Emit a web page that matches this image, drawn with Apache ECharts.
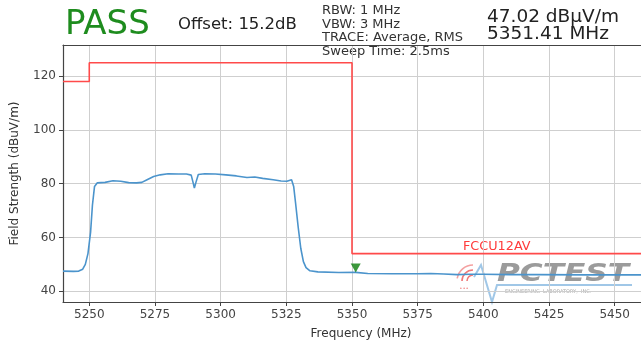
<!DOCTYPE html>
<html><head><meta charset="utf-8">
<script src="https://cdn.jsdelivr.net/npm/echarts@6/dist/echarts.min.js"></script>
<style>html,body{margin:0;padding:0;background:#fff}#c{width:641px;height:345px}</style>
</head><body><div id="c"></div>
<script>
// ---- data ----
const traceFreqs = [5240,5244,5246,5247.5,5248.5,5249.5,5250.5,5251.2,5252,5253,5256,5259,5262,5265,5268,5270,5272,5274.5,5277,5280,5284,5287,5288.8,5289.5,5290,5290.6,5291.5,5294,5298,5302,5306,5310,5313,5316,5320,5323,5325.2,5327,5327.8,5328.5,5329.5,5330.5,5331.5,5332.5,5334,5337,5345,5351.41,5356,5365,5375,5380,5385,5390,5395,5400,5410,5420,5440,5460];
const traceLevels = [47.5,47.4,47.5,48.2,50,54,62,72,79,80.3,80.5,81.1,80.9,80.4,80.3,80.5,81.5,82.7,83.3,83.7,83.6,83.6,83.2,80.5,78.4,80.5,83.4,83.7,83.6,83.3,82.9,82.3,82.5,82.0,81.5,81.0,80.9,81.5,79,73,64,56,51,48.8,47.6,47.2,47.0,47.02,46.6,46.5,46.5,46.6,46.4,46.2,46.3,46.3,46.2,46.2,46.1,46.1];
const limitFreqs = [5240,5250,5250,5350,5350,5460];
const limitLevels = [118,118,125,125,54,54];
const markerFreqs = [5351.41];
const markerLevels = [47.02];
const xTickValues = [5250,5275,5300,5325,5350,5375,5400,5425,5450];
const yTickValues = [40,60,80,100,120];
const limitName = 'FCCU12AV';

const FONT = 'DejaVu Sans';
const zip = (a, b) => a.map((v, i) => [v, b[i]]);
const plain = v => String(v);

const chart = echarts.init(document.getElementById('c'), null, {renderer: 'canvas'});
const frame = {show: true, lineStyle: {color: '#444', width: 1.2}};
const option = {
  animation: false,
  backgroundColor: '#fff',
  textStyle: {fontFamily: FONT},
  grid: {left: 63, top: 45, right: 0, bottom: 40, show: false},
  xAxis: [{
    type: 'value', min: 5240, max: 5460,
    name: 'Frequency (MHz)', nameLocation: 'middle', nameGap: 26,
    nameTextStyle: {fontFamily: FONT, fontSize: 12, color: '#333', padding: [0, 0, 0, 18]},
    axisLine: frame,
    axisTick: {show: true, length: 4, inside: false, customValues: xTickValues, lineStyle: {color: '#444'}},
    axisLabel: {customValues: xTickValues, formatter: plain, fontFamily: FONT, fontSize: 12, color: '#444', margin: 7},
    splitLine: {show: true, lineStyle: {color: '#cfcfcf', width: 1}}
  }, {
    type: 'value', position: 'top', min: 5240, max: 5460,
    axisLine: frame, axisTick: {show: false}, axisLabel: {show: false}, splitLine: {show: false}
  }],
  yAxis: {
    type: 'value', min: 36, max: 131.6,
    name: 'Field Strength (dBuV/m)', nameLocation: 'middle', nameGap: 42,
    nameTextStyle: {fontFamily: FONT, fontSize: 12, color: '#333'},
    axisLine: frame,
    axisTick: {show: true, length: 4, inside: false, customValues: yTickValues, lineStyle: {color: '#444'}},
    axisLabel: {customValues: yTickValues, formatter: plain, fontFamily: FONT, fontSize: 12, color: '#444', margin: 7},
    splitLine: {show: true, lineStyle: {color: '#cfcfcf', width: 1}}
  },
  series: [
    {type: 'line', data: zip(limitFreqs, limitLevels), showSymbol: false, symbol: 'none',
     lineStyle: {color: '#ff4a4a', width: 1.6}, z: 3},
    {type: 'line', data: zip(traceFreqs, traceLevels), showSymbol: false, symbol: 'none',
     lineStyle: {color: '#4b94cc', width: 1.6}, z: 4},
    {type: 'scatter', data: zip(markerFreqs, markerLevels), symbol: 'triangle', symbolRotate: 180,
     symbolSize: [10, 9], symbolOffset: [0, -4.5], itemStyle: {color: '#0a7d0a'}, z: 6}
  ],
  graphic: [
    {type: 'text', left: 65, top: 8, style: {text: 'PASS', fontFamily: FONT, fontSize: 34, fill: '#1e8c1e'}},
    {type: 'text', left: 178, top: 16, style: {text: 'Offset: 15.2dB', fontFamily: FONT, fontSize: 16.5, fill: '#222'}},
    {type: 'text', left: 322, top: 4, style: {text: 'RBW: 1 MHz\nVBW: 3 MHz\nTRACE: Average, RMS\nSweep Time: 2.5ms', fontFamily: FONT, fontSize: 13, lineHeight: 13.6, fill: '#333'}},
    {type: 'text', left: 487, top: 8, style: {text: '47.02 dBµV/m\n5351.41 MHz', fontFamily: FONT, fontSize: 18.5, lineHeight: 16.5, fill: '#222'}},
    {type: 'text', left: 463, top: 240, style: {text: limitName, fontFamily: FONT, fontSize: 12.8, fill: '#ff3b3b'}},
    // PCTEST watermark logo
    {type: 'group', z: 10, silent: true, children: [
      {type: 'polyline', shape: {points: [[474,277],[481,265],[492,302],[497,285],[632,285]]}, style: {stroke: '#8fbde3', lineWidth: 2, fill: null, opacity: 0.85}},
      {type: 'arc', shape: {cx: 473, cy: 281, r: 6, startAngle: Math.PI, endAngle: Math.PI * 1.5}, style: {stroke: '#f07878', lineWidth: 1.6, fill: null}},
      {type: 'arc', shape: {cx: 473, cy: 281, r: 11, startAngle: Math.PI, endAngle: Math.PI * 1.5}, style: {stroke: '#f07878', lineWidth: 1.6, fill: null}},
      {type: 'arc', shape: {cx: 473, cy: 281, r: 16, startAngle: Math.PI * 1.05, endAngle: Math.PI * 1.5}, style: {stroke: '#f4a0a0', lineWidth: 1.6, fill: null}},
      {type: 'text', x: 460, y: 286, style: {text: '• • •', fontSize: 5, fill: '#f07878'}},
      {type: 'text', x: 497, y: 263, scaleX: 1.3, style: {text: 'PCTEST', fontFamily: FONT, fontSize: 24, fontWeight: 'bold', fontStyle: 'italic', fill: '#8a8a8a', opacity: 0.85}},
      {type: 'text', x: 505, y: 289, style: {text: 'ENGINEERING  LABORATORY,  INC.', fontFamily: FONT, fontSize: 5, fill: '#aaa'}}
    ]}
  ]
};
chart.setOption(option);
</script>
</body></html>
